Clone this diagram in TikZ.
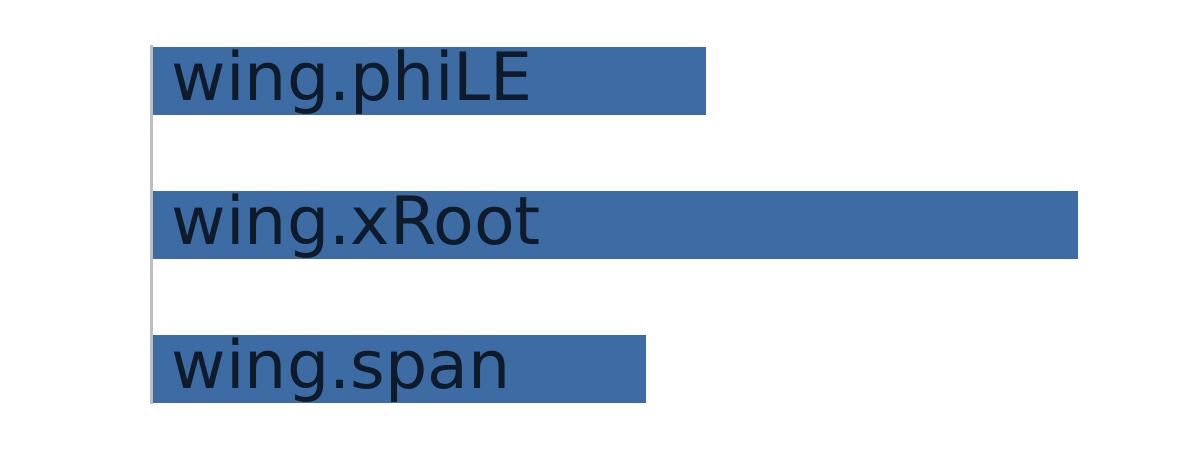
\documentclass[tikz,border=0pt]{standalone}
\usepackage{fontspec}
\setmainfont{DejaVu Sans}
\definecolor{BarFill}{HTML}{3D6CA4}
\definecolor{BarText}{HTML}{0F1A2A}
\definecolor{AxisLine}{HTML}{BDBDBD}
\tikzset{
    bar label/.style={anchor=base west, inner sep=0pt, text=BarText,
        font=\fontsize{33.3}{40}\selectfont}
}

\begin{document}
\begin{tikzpicture}[x=0.5pt, y=-0.5pt]

\useasboundingbox (0,0) rectangle (1200,450);

% Barras
\foreach \name/\top/\right/\txt in {phi/47/706/wing.phiLE, xroot/191/1078/wing.xRoot, span/335/646/wing.span}{
    \fill[BarFill] (152,\top) rectangle (\right,\top+68);
    \node[bar label] (\name) at (171.5,\top+53.5) {\txt};
}

% Eje
\coordinate (axtop) at (151.5,45);
\coordinate (axbot) at (151.5,404);
\draw[AxisLine, line width=1.5pt] (axtop) -- (axbot);

\end{tikzpicture}
\end{document}
